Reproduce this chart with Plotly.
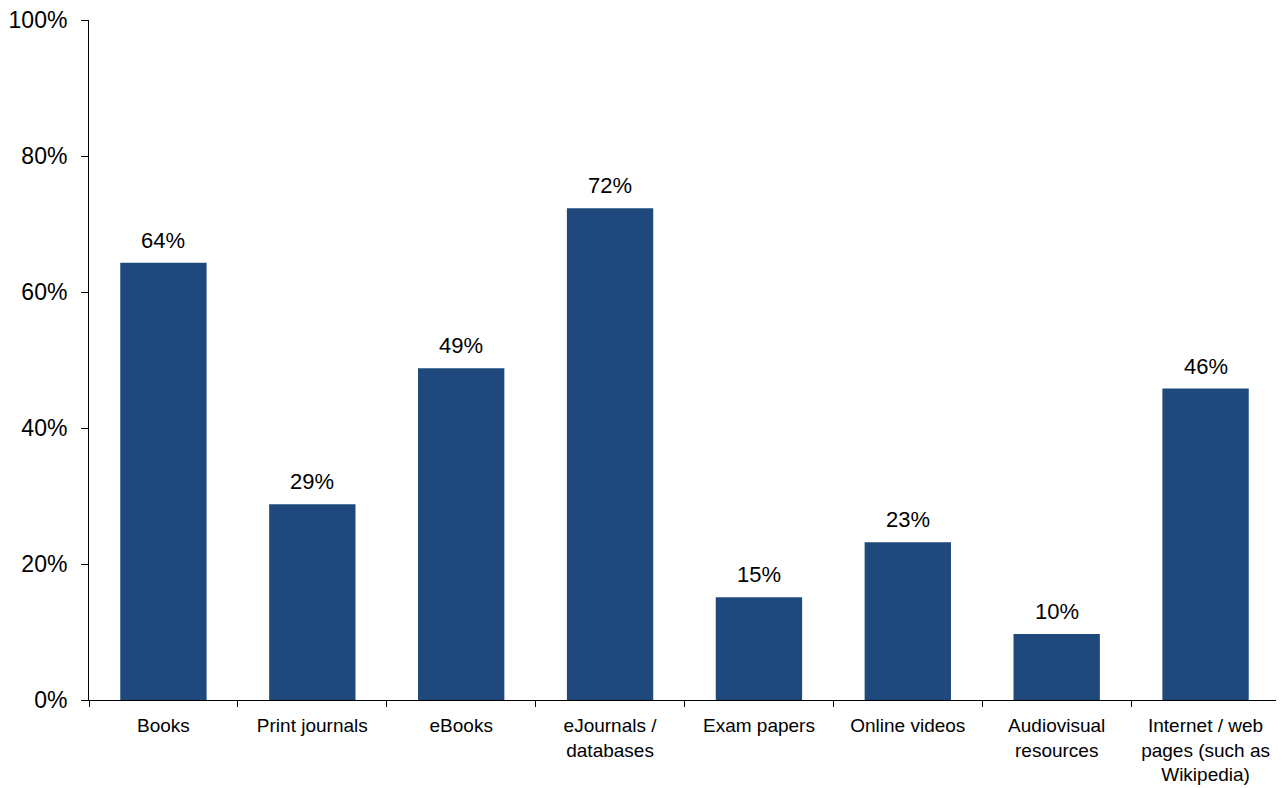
import plotly.graph_objects as go

categories = ["Books", "Print journals", "eBooks", "eJournals /<br>databases", "Exam papers",
              "Online videos", "Audiovisual<br>resources", "Internet / web<br>pages (such as<br>Wikipedia)"]
values = [64.3, 28.8, 48.8, 72.3, 15.1, 23.2, 9.7, 45.8]
labels = ["64%", "29%", "49%", "72%", "15%", "23%", "10%", "46%"]
y_ticks = [0, 20, 40, 60, 80, 100]
y_tick_labels = ["0%", "20%", "40%", "60%", "80%", "100%"]

fig = go.Figure(go.Bar(
    x=categories, y=values,
    marker=dict(color="#1F497D", line=dict(width=0)),
    width=0.58,
))

for c, v, t in zip(categories, values, labels):
    fig.add_annotation(x=c, y=v, text=t, showarrow=False, yanchor="bottom",
                       yshift=8, font=dict(size=22, color="#000000"))

# page body has an 8px default margin, so the figure is offset by 8px
fig.update_layout(
    width=1276, height=780,
    margin=dict(l=81, r=4, t=12, b=88),
    plot_bgcolor="white", paper_bgcolor="white",
    font=dict(family="Liberation Sans, Arial, sans-serif", color="#000000"),
    showlegend=False,
)
fig.update_xaxes(
    automargin=False, ticklabeloverflow="allow", ticklabelstandoff=8,
    showline=True, linecolor="#000000", linewidth=1,
    ticks="outside", tickson="boundaries", ticklen=6, tickcolor="#000000",
    tickfont=dict(size=19), showgrid=False,
)
fig.update_yaxes(
    automargin=False, ticklabeloverflow="allow", ticklabelstandoff=9,
    range=[0, 100], tickvals=y_ticks, ticktext=y_tick_labels,
    showline=True, linecolor="#000000", linewidth=1,
    ticks="outside", ticklen=7, tickcolor="#000000",
    tickfont=dict(size=23), showgrid=False, zeroline=False,
)

fig.write_html("out.html")
